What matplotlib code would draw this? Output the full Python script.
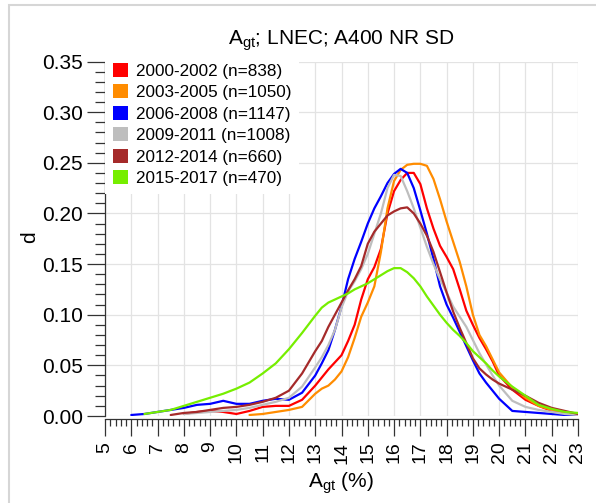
import numpy as np
import matplotlib
matplotlib.use("Agg")
import matplotlib.pyplot as plt
from matplotlib.patches import Patch, Rectangle
from matplotlib.ticker import MultipleLocator

plt.rcParams['font.family'] = ['Liberation Sans', 'DejaVu Sans']

# Agt values (%) where the density curves were read
x = [6.0, 6.5, 7.0, 7.5, 8.0, 8.5, 9.0, 9.5, 10.0, 10.5, 11.0, 11.5, 12.0, 12.5,
     13.0, 13.25, 13.5, 13.75, 14.0, 14.25, 14.5, 14.75, 15.0, 15.25, 15.5, 15.75,
     16.0, 16.25, 16.5, 16.75, 17.0, 17.25, 17.5, 17.75, 18.0, 18.25, 18.5, 18.75,
     19.0, 19.25, 19.5, 19.75, 20.0, 20.5, 21.0, 21.5, 22.0, 22.5, 23.0]

nan = np.nan
d_2000 = [nan, nan, nan, nan, 0.002, 0.004, 0.005, 0.004, 0.002, 0.005, 0.009, 0.010, 0.010, 0.016,
          0.030, 0.038, 0.046, 0.053, 0.060, 0.074, 0.090, 0.115, 0.135, 0.147, 0.165, 0.200,
          0.222, 0.233, 0.240, 0.240, 0.229, 0.205, 0.185, 0.168, 0.157, 0.145, 0.125, 0.104,
          0.090, 0.077, 0.066, 0.054, 0.040, 0.026, 0.016, 0.010, 0.005, 0.003, 0.001]
d_2003 = [nan, nan, nan, nan, nan, nan, nan, nan, nan, 0.001, 0.002, 0.004, 0.006, 0.009,
          0.022, 0.027, 0.030, 0.036, 0.044, 0.058, 0.077, 0.098, 0.112, 0.128, 0.162, 0.205,
          0.232, 0.243, 0.248, 0.249, 0.249, 0.247, 0.234, 0.214, 0.192, 0.172, 0.152, 0.128,
          0.100, 0.080, 0.069, 0.056, 0.043, 0.028, 0.018, 0.010, 0.006, 0.004, 0.002]
d_2006 = [0.001, 0.002, 0.004, 0.006, 0.008, 0.011, 0.012, 0.015, 0.012, 0.012, 0.015, 0.017, 0.016, 0.023,
          0.040, 0.052, 0.065, 0.085, 0.108, 0.135, 0.155, 0.172, 0.190, 0.205, 0.217, 0.230,
          0.239, 0.244, 0.240, 0.225, 0.203, 0.180, 0.155, 0.128, 0.110, 0.097, 0.083, 0.069,
          0.055, 0.042, 0.033, 0.025, 0.017, 0.005, 0.004, 0.003, 0.002, 0.001, 0.001]
d_2009 = [nan, nan, nan, nan, 0.002, 0.003, 0.004, 0.005, 0.006, 0.008, 0.011, 0.014, 0.018, 0.029,
          0.048, 0.058, 0.070, 0.085, 0.107, 0.123, 0.133, 0.145, 0.160, 0.180, 0.200, 0.225,
          0.238, 0.237, 0.222, 0.205, 0.186, 0.167, 0.150, 0.135, 0.122, 0.108, 0.098, 0.088,
          0.075, 0.062, 0.051, 0.040, 0.030, 0.015, 0.009, 0.006, 0.004, 0.002, 0.001]
d_2012 = [nan, nan, nan, 0.001, 0.003, 0.004, 0.006, 0.008, 0.009, 0.011, 0.014, 0.018, 0.025, 0.042,
          0.064, 0.074, 0.088, 0.100, 0.112, 0.124, 0.135, 0.148, 0.170, 0.182, 0.190, 0.198,
          0.202, 0.205, 0.206, 0.200, 0.190, 0.178, 0.162, 0.142, 0.122, 0.103, 0.087, 0.072,
          0.057, 0.047, 0.041, 0.036, 0.032, 0.026, 0.020, 0.013, 0.008, 0.005, 0.002]
d_2015 = [nan, 0.002, 0.004, 0.006, 0.010, 0.014, 0.018, 0.022, 0.027, 0.033, 0.042, 0.052, 0.066, 0.082,
          0.099, 0.107, 0.112, 0.115, 0.118, 0.121, 0.125, 0.128, 0.131, 0.135, 0.139, 0.143,
          0.146, 0.146, 0.142, 0.136, 0.128, 0.118, 0.109, 0.100, 0.092, 0.085, 0.079, 0.072,
          0.064, 0.058, 0.052, 0.045, 0.039, 0.029, 0.020, 0.011, 0.007, 0.004, 0.003]

series = [d_2000, d_2003, d_2006, d_2009, d_2012, d_2015]
labels = ["2000-2002 (n=838)", "2003-2005 (n=1050)", "2006-2008 (n=1147)",
          "2009-2011 (n=1008)", "2012-2014 (n=660)", "2015-2017 (n=470)"]
colors = ["#ff0000", "#ff8c00", "#0000ff", "#bebebe", "#a52a2a", "#76ee00"]

W, H = 596, 503
fig = plt.figure(figsize=(W / 100, H / 100), dpi=100)
ax = fig.add_axes([105 / W, 1 - 416 / H, 473 / W, 354.5 / H])

for vals, col in zip(series, colors):
    ax.plot(x, vals, color=col, lw=1.6, solid_capstyle='round')

ax.set_xlim(5, 23)
ax.set_ylim(0, 0.35)
ax.xaxis.set_major_locator(MultipleLocator(1))
ax.xaxis.set_minor_locator(MultipleLocator(0.2))
ax.yaxis.set_major_locator(MultipleLocator(0.05))
ax.yaxis.set_minor_locator(MultipleLocator(0.01))
ax.yaxis.set_major_formatter(plt.FuncFormatter(lambda v, p: f"{v:.2f}"))

ax.grid(True, which='major', color='#e3e3e3', lw=0.9)
ax.set_axisbelow(True)
for s in ['top', 'right']:
    ax.spines[s].set_visible(False)
ax.spines['bottom'].set_position(('outward', 2.5))
for s in ['left', 'bottom']:
    ax.spines[s].set_color('#333333')
    ax.spines[s].set_linewidth(0.9)

ax.tick_params(axis='y', which='major', length=13, width=0.9, color='#333333',
               labelsize=15, pad=3)
ax.tick_params(axis='y', which='minor', length=7, width=0.9, color='#333333')
ax.tick_params(axis='x', which='major', length=12, width=0.9, color='#333333',
               labelsize=14, pad=4, labelrotation=90)
ax.tick_params(axis='x', which='minor', length=5, width=0.9, color='#333333')

handles = [Patch(facecolor=c, edgecolor='none') for c in colors]
leg = ax.legend(handles, labels, loc='upper left', bbox_to_anchor=(0, 1.018),
                borderaxespad=0, fontsize=12.3, handlelength=0.88, handleheight=0.88,
                handletextpad=0.5, labelspacing=0.33, borderpad=0.45,
                frameon=True, framealpha=1, facecolor='white', edgecolor='none',
                fancybox=False)

fig.text(341 / W, 1 - 41 / H, r"A$_{\mathregular{gt}}$; LNEC; A400 NR SD",
         ha='center', va='center', fontsize=15)
fig.text(341 / W, 1 - 483 / H, r"A$_{\mathregular{gt}}$ (%)",
         ha='center', va='center', fontsize=15)
fig.text(30 / W, 1 - 237 / H, "d", ha='center', va='center', rotation=90, fontsize=15)

# light frame around the plot region
fig.patches.append(Rectangle((9 / W, -0.05), 1.2, 1 - 5 / H + 0.05,
                             transform=fig.transFigure, fill=False,
                             edgecolor='#d6d6d6', lw=1.5))

fig.savefig("out.png", dpi=100)
